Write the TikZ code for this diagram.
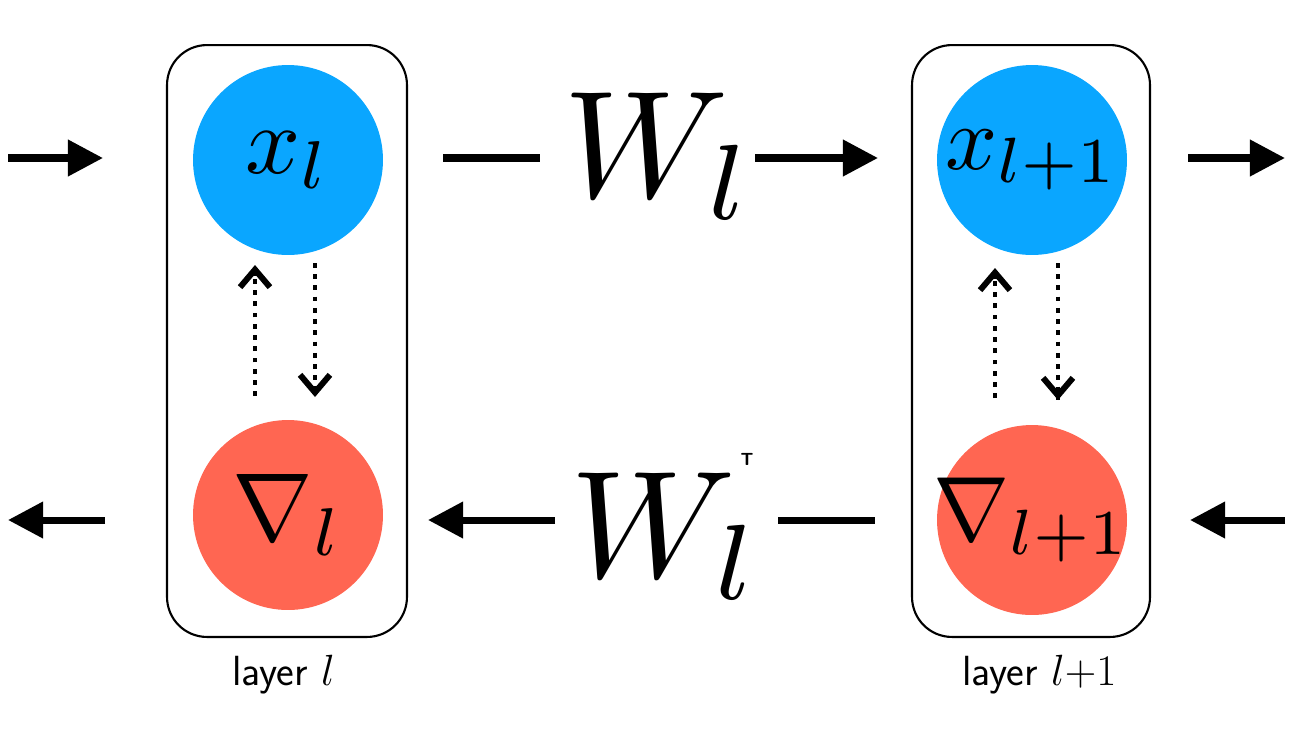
\documentclass[tikz,border=0pt]{standalone}
\usepackage{graphicx}
\usetikzlibrary{arrows.meta,calc}
\definecolor{ActClr}{RGB}{10,166,255}
\definecolor{GradClr}{RGB}{255,102,82}
\newcommand{\circtext}[1]{\scalebox{5.5}{#1}}
\newcommand{\weighttext}[1]{\scalebox{8.7}{#1}}
\newcommand{\layerfont}{\sffamily\fontsize{24}{28}\selectfont}

\begin{document}
\begin{tikzpicture}[x=0.02cm,y=-0.02cm,
  layerbox/.style={draw=black,line width=1.2pt,rounded corners=0.8cm,minimum height=11.84cm},
  actnode/.style={circle,fill=ActClr,minimum size=3.8cm,inner sep=0pt},
  gradnode/.style={circle,fill=GradClr,minimum size=3.8cm,inner sep=0pt},
  flow/.style={line width=4pt,-{Triangle[length=20pt,width=20pt]}},
  plain/.style={line width=4pt},
  swap/.style={line width=2.6pt,dash pattern=on 2.6pt off 3.8pt},
  swaphead/.style={line width=3.4pt,-{Straight Barb[length=10pt,width=17pt]}}]
\useasboundingbox (0,0) rectangle (1300,731);

\node[layerbox,minimum width=4.8cm] (boxl) at (287,341) {};
\node[layerbox,minimum width=4.76cm] (boxr) at (1031,341) {};

\node[actnode,label=center:{\circtext{$x_l$}}] (xl) at (288,160) {};
\node[actnode,label=center:{\scalebox{5.2}{$x_{l{+}1}$}}] (xr) at (1032,160) {};
\node[gradnode,label=center:{\circtext{$\nabla_l$}}] (gl) at (288,515) {};
\node[gradnode,label=center:{\scalebox{5.2}{$\nabla_{l{+}1}$}}] (gr) at (1032,520) {};

\node[anchor=base west,inner sep=0pt] (wf) at (563,197) {\weighttext{$W_l$}};
\node[anchor=base west,inner sep=0pt] (wb) at (570,577) {\weighttext{$W_l$}};
\node[inner sep=0pt,font=\sffamily\bfseries\fontsize{10}{10}\selectfont] (wt) at (747,459) {T};

\node[anchor=base west,inner sep=0pt,font=\layerfont] (labl) at (232,685) {layer $l$};
\node[anchor=base west,inner sep=0pt,font=\layerfont] (labr) at (962,685) {layer $l{+}1$};

\coordinate (ina) at (8,158);     \coordinate (inb) at (103,158);
\coordinate (fa) at (443,158);    \coordinate (fb) at (540,158);
\coordinate (fc) at (755,158);    \coordinate (fd) at (878,158);
\coordinate (outa) at (1188,158); \coordinate (outb) at (1285,158);
\coordinate (ga) at (105,520);    \coordinate (gb) at (8,520);
\coordinate (gc) at (555,520);    \coordinate (gd) at (428,520);
\coordinate (ge) at (778,520);    \coordinate (gf) at (875,520);
\coordinate (gg) at (1285,520);   \coordinate (gh) at (1190,520);

\draw[flow] (ina) -- (inb);
\draw[plain] (fa) -- (fb);
\draw[flow] (fc) -- (fd);
\draw[flow] (outa) -- (outb);
\draw[flow] (ga) -- (gb);
\draw[flow] (gc) -- (gd);
\draw[plain] (ge) -- (gf);
\draw[flow] (gg) -- (gh);

\coordinate (ula) at (255,396);  \coordinate (ulb) at (255,265);
\coordinate (dla) at (315,263);  \coordinate (dlb) at (315,397);
\coordinate (ura) at (995,398);  \coordinate (urb) at (995,268);
\coordinate (dra) at (1058,263); \coordinate (drb) at (1058,400);

\draw[swap] (ula) -- (ulb);
\draw[swap] (dla) -- (dlb);
\draw[swap] (ura) -- (urb);
\draw[swap] (dra) -- (drb);
\draw[swaphead] ($(ulb)!6pt!(ula)$) -- (ulb);
\draw[swaphead] ($(dlb)!6pt!(dla)$) -- (dlb);
\draw[swaphead] ($(urb)!6pt!(ura)$) -- (urb);
\draw[swaphead] ($(drb)!6pt!(dra)$) -- (drb);

\end{tikzpicture}
\end{document}
